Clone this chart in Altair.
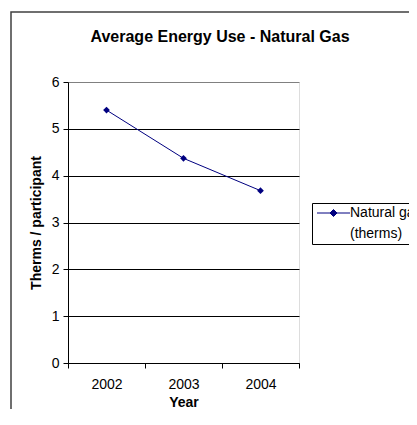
import altair as alt
import pandas as pd

years = ["2002", "2003", "2004"]
therms = [5.4, 4.37, 3.68]
series_name = "Natural gas (therms)"
y_ticks = [0, 1, 2, 3, 4, 5, 6]
title_text = "Average Energy Use - Natural Gas"

df = pd.DataFrame({"Year": years, "Therms": therms, "Series": [series_name] * len(years)})

FONT = "Liberation Sans"
NAVY = "#000080"
W, H = 231, 281

# legend symbol: a short line with a diamond (unit = 5px)
sym_path = "M-1,0L5.6,0M2.3,-0.7L3,0L2.3,0.7L1.6,0Z"

line = alt.Chart(df).mark_line(
    strokeWidth=1,
    point=alt.OverlayMarkDef(shape="diamond", filled=True, size=45, color=NAVY),
).encode(
    x=alt.X(
        "Year:O",
        bandPosition=0.5,
        scale=alt.Scale(type="band", paddingInner=0, paddingOuter=0),
        axis=alt.Axis(
            title="Year", labelAngle=0, tickBand="extent", tickSize=5,
            labelPadding=9, titlePadding=4, domainColor="black", tickColor="black",
            labelFont=FONT, labelFontSize=14, labelColor="black",
            titleFont=FONT, titleFontSize=14, titleFontWeight="bold", titleColor="black",
            grid=False,
        ),
    ),
    y=alt.Y(
        "Therms:Q",
        scale=alt.Scale(domain=[0, 6], nice=False, zero=True),
        axis=alt.Axis(
            title="Therms / participant", values=y_ticks, tickSize=5, labelPadding=4,
            titlePadding=8, domainColor="black", tickColor="black",
            labelFont=FONT, labelFontSize=14, labelColor="black",
            titleFont=FONT, titleFontSize=14, titleFontWeight="bold", titleColor="black",
            grid=True,
            gridColor={"condition": {"test": "datum.value == 6", "value": "#808080"}, "value": "black"},
            gridWidth=1, gridOpacity=1,
        ),
    ),
    color=alt.Color(
        "Series:N",
        scale=alt.Scale(range=[NAVY]),
        legend=alt.Legend(
            title=None, orient="none", legendX=244, legendY=121,
            symbolType=sym_path, symbolSize=100, symbolStrokeWidth=1,
            symbolFillColor=NAVY, symbolStrokeColor=NAVY,
            labelExpr="['Natural gas', '(therms)']",
            labelFont=FONT, labelFontSize=14, labelColor="black", labelOffset=21,
            labelBaseline="middle",
            strokeColor="black", fillColor="white", padding=3,
        ),
    ),
)

deco = alt.Data(values=[{"t": title_text}])

frame = alt.Chart(deco).mark_rect(
    fill="transparent", stroke="#404040", strokeWidth=1.5
).encode(
    x=alt.value(-57), x2=alt.value(360), y=alt.value(-70), y2=alt.value(360)
)

title = alt.Chart(deco).mark_text(
    font=FONT, fontSize=16, fontWeight="bold", color="black",
    align="center", baseline="alphabetic",
).encode(
    text="t:N", x=alt.value(152), y=alt.value(-40)
)

chart = alt.layer(frame, title, line).properties(
    width=W,
    height=H,
    autosize=alt.AutoSizeParams(type="none"),
    padding={"left": 60, "top": 74, "right": 110, "bottom": 46},
    background="white",
).configure_view(
    fill="#C0C0C0", stroke="#808080", strokeWidth=1
).configure(
    style={"guide-label": {"lineHeight": 21}}
)

chart.save("out.html", embed_options={"renderer": "svg", "actions": False})
